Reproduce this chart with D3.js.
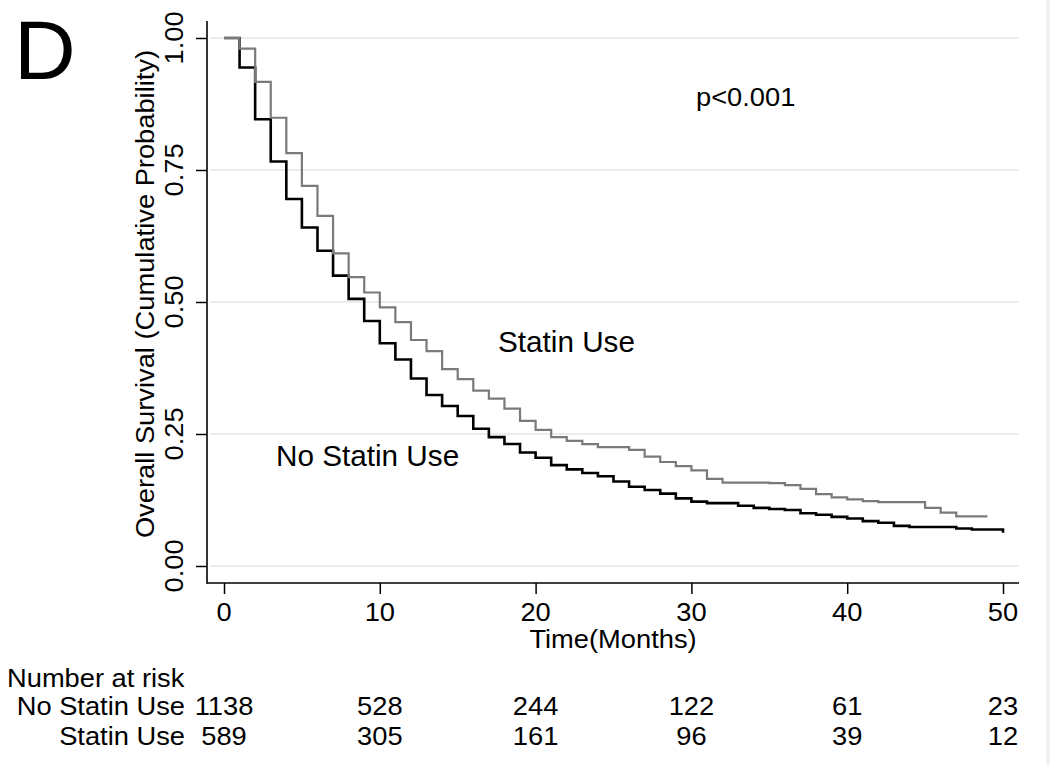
<!DOCTYPE html>
<html>
<head>
<meta charset="utf-8">
<script src="https://cdn.jsdelivr.net/npm/d3@7"></script>
<style>
  html, body { margin: 0; padding: 0; background: #fff; }
  svg { display: block; }
  text { font-family: "Liberation Sans", Arial, Helvetica, sans-serif; fill: #000; }
</style>
</head>
<body>
<svg id="chart" width="1050" height="765"></svg>
<script>
// ---- data ----
const months = [0,1,2,3,4,5,6,7,8,9,10,11,12,13,14,15,16,17,18,19,20,21,22,23,24,25,26,27,28,29,30,31,32,33,34,35,36,37,38,39,40,41,42,43,44,45,46,47,48,49,50];
const noStatinUse = [1.0,0.944,0.846,0.766,0.695,0.641,0.597,0.550,0.506,0.464,0.422,0.391,0.355,0.324,0.303,0.284,0.260,0.244,0.231,0.215,0.205,0.191,0.183,0.176,0.170,0.160,0.150,0.144,0.137,0.128,0.122,0.119,0.119,0.114,0.110,0.108,0.106,0.100,0.097,0.093,0.090,0.085,0.082,0.076,0.074,0.074,0.074,0.071,0.069,0.069,0.063];
const statinUse = [1.0,0.980,0.917,0.849,0.782,0.720,0.663,0.592,0.547,0.518,0.490,0.462,0.428,0.407,0.373,0.354,0.332,0.317,0.298,0.275,0.258,0.244,0.237,0.231,0.225,0.225,0.220,0.207,0.197,0.189,0.181,0.165,0.158,0.158,0.158,0.157,0.153,0.146,0.136,0.130,0.126,0.123,0.121,0.121,0.121,0.110,0.101,0.094,0.094,0.094];
const yTicks = [0, 0.25, 0.5, 0.75, 1.0];
const xTicks = [0, 10, 20, 30, 40, 50];
const riskTimes = [0, 10, 20, 30, 40, 50];
const riskNoStatin = [1138, 528, 244, 122, 61, 23];
const riskStatin = [589, 305, 161, 96, 39, 12];
const rowLabels = ["No Statin Use", "Statin Use"];

// ---- layout ----
const svg = d3.select("#chart");
const x = d3.scaleLinear().domain([0, 50]).range([224, 1003]);
const y = d3.scaleLinear().domain([0, 1]).range([566, 38]);
const axisX0 = 207, axisX1 = 1019, axisY = 583, axisTop = 21;
const FS = 26, SX = 1.05;

svg.append("rect").attr("x", 0).attr("y", 0).attr("width", 1050).attr("height", 765).attr("fill", "#fff");
svg.append("rect").attr("x", 1046).attr("y", 0).attr("width", 4).attr("height", 765).attr("fill", "#f1f1f1");

function txt(px, py, str, opt = {}) {
  const size = opt.size || FS;
  const sx = opt.sx == null ? SX : opt.sx;
  const rot = opt.rotate ? ` rotate(${opt.rotate})` : "";
  return svg.append("text")
    .attr("transform", `translate(${px},${py})${rot} scale(${sx},1)`)
    .attr("text-anchor", opt.anchor || "start")
    .style("font-size", size + "px")
    .text(str);
}

// gridlines
svg.append("g").selectAll("line").data(yTicks).join("line")
  .attr("x1", 210).attr("x2", axisX1)
  .attr("y1", d => y(d)).attr("y2", d => y(d))
  .attr("stroke", "#e6e6e6").attr("stroke-width", 1.6);

// survival curves
const line = d3.line().x(d => x(d[0])).y(d => y(d[1])).curve(d3.curveStepAfter);
const blackData = months.map((m, i) => [m, noStatinUse[i]]);
const grayData = months.slice(0, statinUse.length).map((m, i) => [m, statinUse[i]]);
svg.append("path").datum(blackData).attr("d", line)
  .attr("fill", "none").attr("stroke", "#000").attr("stroke-width", 2.6).attr("stroke-linejoin", "miter");
svg.append("path").datum(grayData).attr("d", line)
  .attr("fill", "none").attr("stroke", "#7a7a7a").attr("stroke-width", 2.2).attr("stroke-linejoin", "miter");

// axes
const yAxis = d3.axisLeft(y).tickValues(yTicks).tickSize(11).tickFormat(() => "");
const gy = svg.append("g").attr("transform", `translate(${axisX0},0)`).call(yAxis);
gy.select(".domain").remove();
gy.selectAll("line").attr("stroke", "#000").attr("stroke-width", 1.5);
svg.append("line").attr("x1", axisX0).attr("x2", axisX0).attr("y1", axisTop).attr("y2", axisY + 0.75)
  .attr("stroke", "#000").attr("stroke-width", 1.6);

const xAxis = d3.axisBottom(x).tickValues(xTicks).tickSize(11).tickFormat(() => "");
const gx = svg.append("g").attr("transform", `translate(0,${axisY})`).call(xAxis);
gx.select(".domain").remove();
gx.selectAll("line").attr("stroke", "#000").attr("stroke-width", 1.5);
svg.append("line").attr("x1", axisX0).attr("x2", axisX1).attr("y1", axisY).attr("y2", axisY)
  .attr("stroke", "#000").attr("stroke-width", 1.6);

// tick labels
yTicks.forEach(t => txt(183, y(t), d3.format(".2f")(t), { anchor: "middle", rotate: -90 }));
xTicks.forEach(t => txt(x(t), 621, String(t), { anchor: "middle" }));

// axis titles
txt(613, 648, "Time(Months)", { anchor: "middle" });
txt(154, 294, "Overall Survival (Cumulative Probability)", { anchor: "middle", rotate: -90 });

// panel letter
txt(14, 79, "D", { size: 83, sx: 1.03 });

// annotations
txt(696, 106, "p<0.001");
txt(498, 352, "Statin Use", { size: 29.7, sx: 1 });
txt(276, 466, "No Statin Use", { size: 29.7, sx: 1 });

// number at risk
txt(7, 687, "Number at risk");
txt(185, 715, rowLabels[0], { anchor: "end" });
txt(185, 745, rowLabels[1], { anchor: "end" });
riskTimes.forEach((t, i) => {
  txt(x(t), 715, String(riskNoStatin[i]), { anchor: "middle" });
  txt(x(t), 745, String(riskStatin[i]), { anchor: "middle" });
});
</script>
</body>
</html>
